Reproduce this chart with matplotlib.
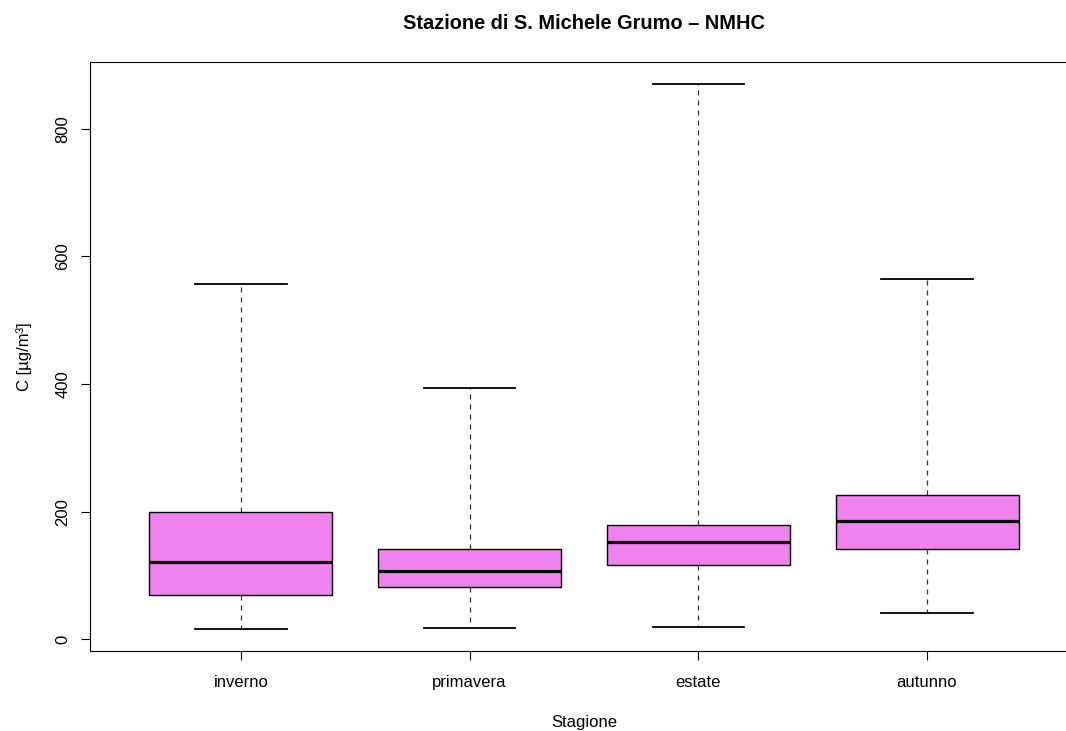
import matplotlib
matplotlib.use("Agg")
import matplotlib.pyplot as plt

# ---- data ----
seasons = ["inverno", "primavera", "estate", "autunno"]
whisker_low = [16, 18, 20, 42]
q1 = [70, 82, 117, 141]
medians = [121, 107, 152, 186]
q3 = [200, 142, 180, 227]
whisker_high = [557, 394, 871, 565]
yticks = [0, 200, 400, 600, 800]

title = "Stazione di S. Michele Grumo \u2013 NMHC"
xlabel = "Stagione"
ylabel = "C [\u00b5g/m\u00b3]"

plt.rcParams['font.family'] = ['Liberation Sans', 'DejaVu Sans']

W, H = 1066, 731
fig = plt.figure(figsize=(W / 100, H / 100), dpi=100)
ax_left, ax_right, ax_top, ax_bottom = 90, 1078, 61.7, 651
ax = fig.add_axes([ax_left / W, 1 - ax_bottom / H,
                   (ax_right - ax_left) / W, (ax_bottom - ax_top) / H])

stats = []
for i, s in enumerate(seasons):
    stats.append(dict(label=s, whislo=whisker_low[i], q1=q1[i], med=medians[i],
                      q3=q3[i], whishi=whisker_high[i], fliers=[]))

n = len(seasons)
positions = list(range(1, n + 1))
ax.bxp(stats, positions=positions, widths=0.8, capwidths=0.4,
       patch_artist=True, showfliers=False,
       boxprops=dict(facecolor="#EE82EE", edgecolor="black", linewidth=1.0),
       medianprops=dict(color="black", linewidth=2.3, solid_capstyle="butt"),
       whiskerprops=dict(color="#333333", linewidth=0.9, linestyle=(0, (4, 4))),
       capprops=dict(color="black", linewidth=1.3))

# R-style axis extents (4% expansion)
xlo, xhi = 0.5, n + 0.5
ext = 0.04 * (xhi - xlo)
ax.set_xlim(xlo - ext, xhi + ext)
ymin, ymax = min(whisker_low), max(whisker_high)
yext = 0.04 * (ymax - ymin)
ax.set_ylim(ymin - yext, ymax + yext)

ax.set_xticks(positions)
ax.set_xticklabels(seasons, fontsize=12)
ax.set_yticks(yticks)
ax.set_yticklabels([str(v) for v in yticks], fontsize=12, rotation=90, va="center")
ax.tick_params(axis="x", length=6.5, width=0.8, pad=10.5, colors="black")
ax.tick_params(axis="y", length=6.5, width=0.8, pad=7.5, colors="black")
for sp in ax.spines.values():
    sp.set_linewidth(0.8)
    sp.set_color("black")
# the frame's right side lies beyond the image edge in the reference
ax.spines["right"].set_visible(False)

cx = (ax_left + ax_right) / 2 / W
fig.text(cx, 1 - 29 / H, title, ha="center", va="baseline",
         fontsize=14.4, fontweight="bold")
fig.text(cx, 1 - 727 / H, xlabel, ha="center", va="baseline", fontsize=12)
fig.text(24 / W, 1 - ((ax_top + ax_bottom) / 2) / H, ylabel, ha="center",
         va="center", rotation=90, fontsize=12)

fig.savefig("out.png", dpi=100)
